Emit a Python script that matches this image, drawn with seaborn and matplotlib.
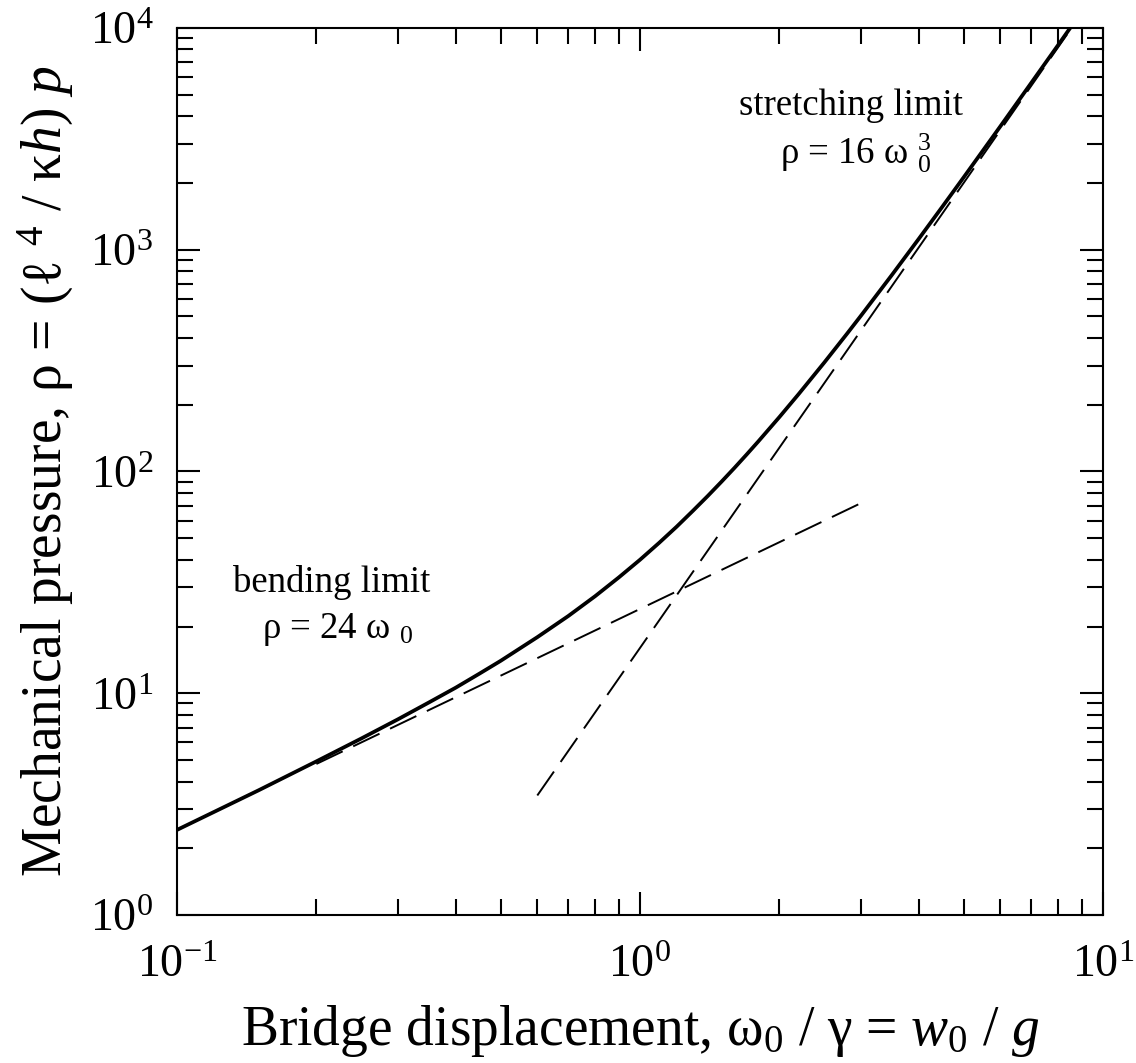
import numpy as np
import pandas as pd
import matplotlib
matplotlib.use("Agg")
import matplotlib.pyplot as plt
import seaborn as sns

# Solid curve: values
omega = [0.1, 0.15, 0.2, 0.25, 0.3, 0.35, 0.4, 0.45, 0.5, 0.6, 0.7, 0.8, 0.9,
         1.0, 1.1, 1.2, 1.3, 1.4, 1.5, 1.6, 1.7, 1.8, 2.0, 2.2, 2.5, 2.8, 3.0,
         3.5, 4.0, 4.5, 5.0, 6.0, 7.0, 8.0, 8.6]
rho = [2.42, 3.65, 4.93, 6.25, 7.63, 9.09, 10.6, 12.26, 14.0, 17.9, 22.3, 27.4,
       33.3, 40.0, 47.7, 56.4, 66.4, 77.5, 90.0, 103.9, 119.4, 136.5, 176.0,
       223.2, 310.0, 418.4, 504.0, 770.0, 1120.0, 1566.0, 2120.0, 3600.0,
       5660.0, 8380.0, 10380.0]

# Asymptotes (straight dashed lines)
bend_x = [0.2, 3.0]
bend_y = [4.8, 72.0]
stretch_x = [0.6, 8.6]
stretch_y = [3.46, 10180.0]

sns.set_theme(style="ticks")
plt.rcParams["font.family"] = ["Liberation Serif", "DejaVu Serif"]
plt.rcParams["mathtext.fontset"] = "custom"
plt.rcParams["mathtext.rm"] = "Liberation Serif"
plt.rcParams["mathtext.it"] = "Liberation Serif:italic"
plt.rcParams["mathtext.bf"] = "Liberation Serif:bold"
plt.rcParams["axes.unicode_minus"] = False
for k in ["text.color", "axes.labelcolor", "xtick.color", "ytick.color",
          "axes.edgecolor", "xtick.labelcolor", "ytick.labelcolor"]:
    plt.rcParams[k] = "black"

fig = plt.figure(figsize=(11.36, 10.63), dpi=100)
ax = fig.add_axes([0.1558, 0.1392, 0.9710 - 0.1558, 0.9737 - 0.1392])

df = pd.DataFrame({"omega": omega, "rho": rho})
sns.lineplot(data=df, x="omega", y="rho", ax=ax, color="black", lw=2.7,
             sort=False, estimator=None)
sns.lineplot(x=bend_x, y=bend_y, ax=ax, color="black", lw=1.4,
             linestyle=(0, (15, 6)), estimator=None)
sns.lineplot(x=stretch_x, y=stretch_y, ax=ax, color="black", lw=1.4,
             linestyle=(0, (15, 6)), estimator=None)

ax.set_xscale("log")
ax.set_yscale("log")
ax.set_xlim(0.1, 10)
ax.set_ylim(1, 1e4)

for s in ax.spines.values():
    s.set_linewidth(1.5)
    s.set_color("black")

ax.tick_params(which="both", direction="in", top=True, right=True,
               width=1.5, color="black", labelsize=33)
ax.tick_params(which="major", length=16.5)
ax.tick_params(which="minor", length=11.5)
ax.tick_params(axis="x", which="major", pad=21)
ax.tick_params(axis="y", which="major", pad=17)
ax.yaxis.set_minor_locator(matplotlib.ticker.LogLocator(base=10, subs=np.arange(2, 10)))
ax.xaxis.set_minor_locator(matplotlib.ticker.LogLocator(base=10, subs=np.arange(2, 10)))
ax.yaxis.set_minor_formatter(matplotlib.ticker.NullFormatter())
ax.xaxis.set_minor_formatter(matplotlib.ticker.NullFormatter())

ax.set_xlabel("Bridge displacement, ω$_0$ / γ = $w_0$ / $g$", fontsize=40, labelpad=12)
ax.set_ylabel("Mechanical pressure, ρ = (ℓ $^4$ / κ$h$) $p$", fontsize=40, labelpad=10)

fs = 26.5
ax.text(332 / 1136, 1 - 583 / 1063, "bending limit", transform=fig.transFigure,
        ha="center", va="center", fontsize=fs)
ax.text(337 / 1136, 1 - 630 / 1063, "ρ = 24 ω $_0$", transform=fig.transFigure,
        ha="center", va="center", fontsize=fs)
ax.text(851 / 1136, 1 - 106 / 1063, "stretching limit", transform=fig.transFigure,
        ha="center", va="center", fontsize=fs)
ax.text(855 / 1136, 1 - 153 / 1063, "ρ = 16 ω $_0^3$", transform=fig.transFigure,
        ha="center", va="center", fontsize=fs)

fig.savefig("out.png", dpi=100)
